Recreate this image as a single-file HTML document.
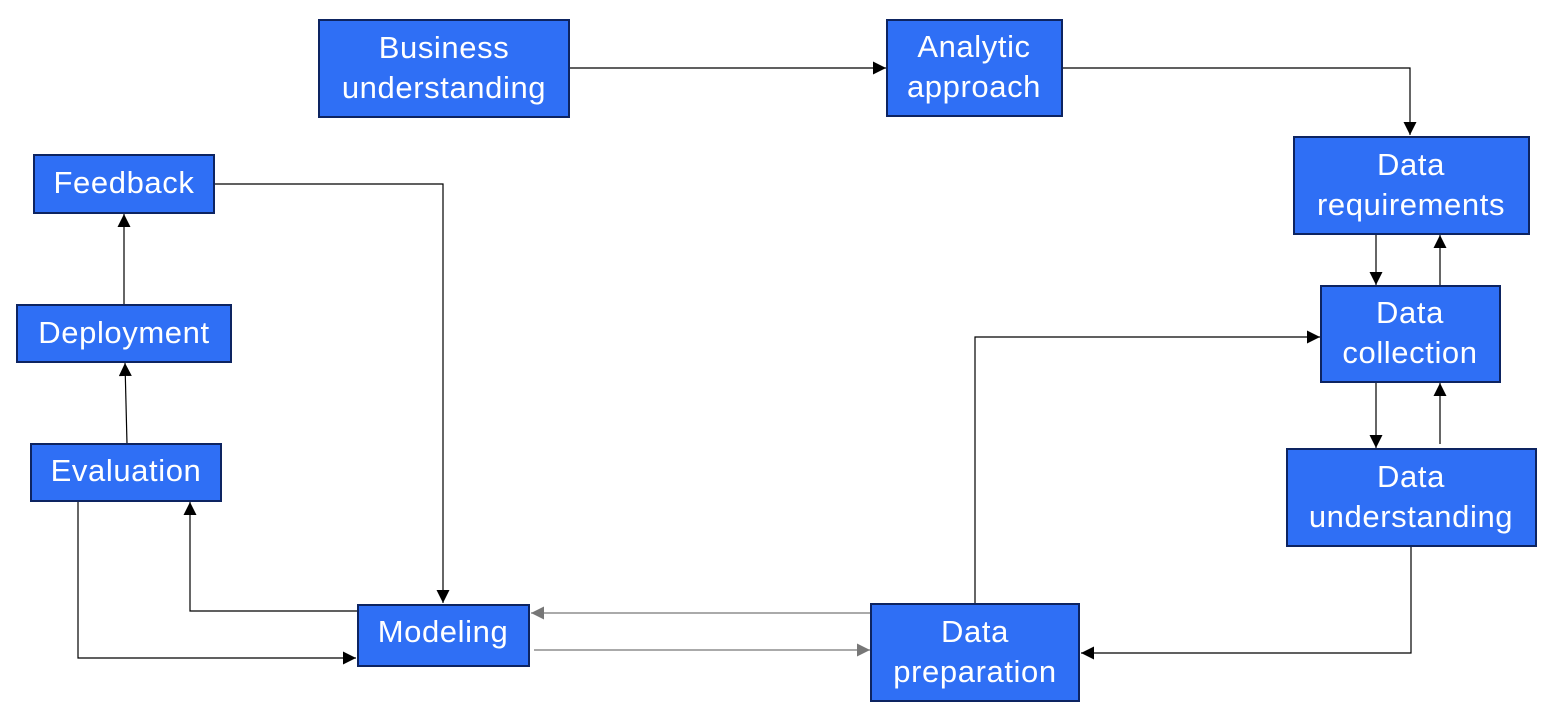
<!DOCTYPE html>
<html><head><style>
html,body{margin:0;padding:0;background:#fff;width:1554px;height:718px;overflow:hidden}
svg text{font-family:"Liberation Sans",sans-serif;font-size:31px;letter-spacing:0.6px;fill:#fff;text-anchor:middle}
rect{fill:#2f6ff5;stroke:#0d2461;stroke-width:2}
</style></head><body>
<svg width="1554" height="718" viewBox="0 0 1554 718" xmlns="http://www.w3.org/2000/svg">
<defs>
<marker id="b" viewBox="0 0 10 10" markerWidth="14" markerHeight="13" refX="10" refY="5" orient="auto" markerUnits="userSpaceOnUse"><path d="M0,0 L10,5 L0,10 z" fill="#000"/></marker>
<marker id="g" viewBox="0 0 10 10" markerWidth="14" markerHeight="13" refX="10" refY="5" orient="auto" markerUnits="userSpaceOnUse"><path d="M0,0 L10,5 L0,10 z" fill="#777"/></marker>
</defs>
<g fill="none" stroke="#000" stroke-width="1.2">
<path d="M569,68 L886,68" marker-end="url(#b)"/>
<path d="M1062,68 L1410,68 L1410,135" marker-end="url(#b)"/>
<path d="M1376,234 L1376,285" marker-end="url(#b)"/>
<path d="M1440,286 L1440,235" marker-end="url(#b)"/>
<path d="M1376,382 L1376,448" marker-end="url(#b)"/>
<path d="M1440,444 L1440,383" marker-end="url(#b)"/>
<path d="M975,604 L975,337 L1320,337" marker-end="url(#b)"/>
<path d="M1411,546 L1411,653 L1081,653" marker-end="url(#b)"/>
<path d="M214,184 L443,184 L443,603" marker-end="url(#b)"/>
<path d="M124,305 L124,214" marker-end="url(#b)"/>
<path d="M127,444 L125,363" marker-end="url(#b)"/>
<path d="M78,501 L78,658 L356,658" marker-end="url(#b)"/>
<path d="M357,611 L190,611 L190,502" marker-end="url(#b)"/>
</g>
<g fill="none" stroke="#777" stroke-width="1.2">
<path d="M871,613 L531,613" marker-end="url(#g)"/>
<path d="M534,650 L870,650" marker-end="url(#g)"/>
</g>
<rect x="319" y="20" width="250" height="97"/>
<text x="444" y="58">Business</text><text x="444" y="98">understanding</text>
<rect x="887" y="20" width="175" height="96"/>
<text x="974" y="57">Analytic</text><text x="974" y="97">approach</text>
<rect x="1294" y="137" width="235" height="97"/>
<text x="1411" y="175">Data</text><text x="1411" y="215">requirements</text>
<rect x="1321" y="286" width="179" height="96"/>
<text x="1410" y="323">Data</text><text x="1410" y="363">collection</text>
<rect x="1287" y="449" width="249" height="97"/>
<text x="1411" y="487">Data</text><text x="1411" y="527">understanding</text>
<rect x="871" y="604" width="208" height="97"/>
<text x="975" y="642">Data</text><text x="975" y="682">preparation</text>
<rect x="358" y="605" width="171" height="61"/>
<text x="443" y="642">Modeling</text>
<rect x="31" y="444" width="190" height="57"/>
<text x="126" y="481">Evaluation</text>
<rect x="17" y="305" width="214" height="57"/>
<text x="124" y="343">Deployment</text>
<rect x="34" y="155" width="180" height="58"/>
<text x="124" y="193">Feedback</text>
</svg>
</body></html>
